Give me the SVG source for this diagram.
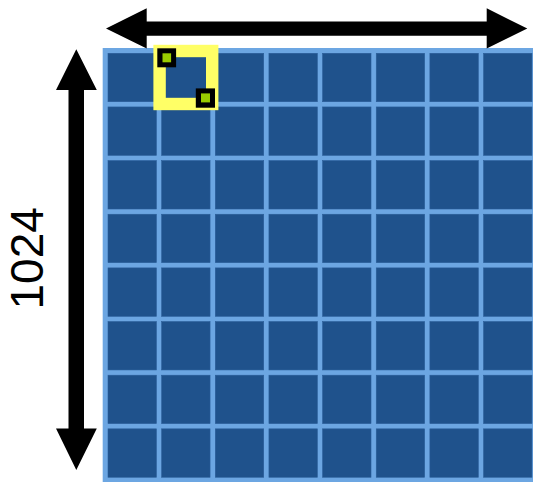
<svg xmlns="http://www.w3.org/2000/svg" width="533" height="482" viewBox="0 0 533 482">
<defs>
<style>
.cell{fill:#1F528C;stroke:#2A5D98;stroke-width:0.6}
.arrow{fill:#000}
.mark{fill:#000}
.dot{fill:#99CC00}
.label{font-family:"Liberation Sans",Arial,sans-serif;font-size:46px;fill:#000}
</style>
</defs>
<rect width="533" height="482" fill="#fff"/>
<g id="grid">
<rect x="102.7" y="48" width="440" height="440" fill="#6CA6E2"/>
<g id="cells">
<rect class="cell" x="108" y="53.3" width="48.4" height="48.4"/><rect class="cell" x="161.65" y="53.3" width="48.4" height="48.4"/><rect class="cell" x="215.3" y="53.3" width="48.4" height="48.4"/><rect class="cell" x="268.95" y="53.3" width="48.4" height="48.4"/><rect class="cell" x="322.6" y="53.3" width="48.4" height="48.4"/><rect class="cell" x="376.25" y="53.3" width="48.4" height="48.4"/><rect class="cell" x="429.9" y="53.3" width="48.4" height="48.4"/><rect class="cell" x="483.55" y="53.3" width="48.4" height="48.4"/>
<rect class="cell" x="108" y="106.95" width="48.4" height="48.4"/><rect class="cell" x="161.65" y="106.95" width="48.4" height="48.4"/><rect class="cell" x="215.3" y="106.95" width="48.4" height="48.4"/><rect class="cell" x="268.95" y="106.95" width="48.4" height="48.4"/><rect class="cell" x="322.6" y="106.95" width="48.4" height="48.4"/><rect class="cell" x="376.25" y="106.95" width="48.4" height="48.4"/><rect class="cell" x="429.9" y="106.95" width="48.4" height="48.4"/><rect class="cell" x="483.55" y="106.95" width="48.4" height="48.4"/>
<rect class="cell" x="108" y="160.6" width="48.4" height="48.4"/><rect class="cell" x="161.65" y="160.6" width="48.4" height="48.4"/><rect class="cell" x="215.3" y="160.6" width="48.4" height="48.4"/><rect class="cell" x="268.95" y="160.6" width="48.4" height="48.4"/><rect class="cell" x="322.6" y="160.6" width="48.4" height="48.4"/><rect class="cell" x="376.25" y="160.6" width="48.4" height="48.4"/><rect class="cell" x="429.9" y="160.6" width="48.4" height="48.4"/><rect class="cell" x="483.55" y="160.6" width="48.4" height="48.4"/>
<rect class="cell" x="108" y="214.25" width="48.4" height="48.4"/><rect class="cell" x="161.65" y="214.25" width="48.4" height="48.4"/><rect class="cell" x="215.3" y="214.25" width="48.4" height="48.4"/><rect class="cell" x="268.95" y="214.25" width="48.4" height="48.4"/><rect class="cell" x="322.6" y="214.25" width="48.4" height="48.4"/><rect class="cell" x="376.25" y="214.25" width="48.4" height="48.4"/><rect class="cell" x="429.9" y="214.25" width="48.4" height="48.4"/><rect class="cell" x="483.55" y="214.25" width="48.4" height="48.4"/>
<rect class="cell" x="108" y="267.9" width="48.4" height="48.4"/><rect class="cell" x="161.65" y="267.9" width="48.4" height="48.4"/><rect class="cell" x="215.3" y="267.9" width="48.4" height="48.4"/><rect class="cell" x="268.95" y="267.9" width="48.4" height="48.4"/><rect class="cell" x="322.6" y="267.9" width="48.4" height="48.4"/><rect class="cell" x="376.25" y="267.9" width="48.4" height="48.4"/><rect class="cell" x="429.9" y="267.9" width="48.4" height="48.4"/><rect class="cell" x="483.55" y="267.9" width="48.4" height="48.4"/>
<rect class="cell" x="108" y="321.55" width="48.4" height="48.4"/><rect class="cell" x="161.65" y="321.55" width="48.4" height="48.4"/><rect class="cell" x="215.3" y="321.55" width="48.4" height="48.4"/><rect class="cell" x="268.95" y="321.55" width="48.4" height="48.4"/><rect class="cell" x="322.6" y="321.55" width="48.4" height="48.4"/><rect class="cell" x="376.25" y="321.55" width="48.4" height="48.4"/><rect class="cell" x="429.9" y="321.55" width="48.4" height="48.4"/><rect class="cell" x="483.55" y="321.55" width="48.4" height="48.4"/>
<rect class="cell" x="108" y="375.2" width="48.4" height="48.4"/><rect class="cell" x="161.65" y="375.2" width="48.4" height="48.4"/><rect class="cell" x="215.3" y="375.2" width="48.4" height="48.4"/><rect class="cell" x="268.95" y="375.2" width="48.4" height="48.4"/><rect class="cell" x="322.6" y="375.2" width="48.4" height="48.4"/><rect class="cell" x="376.25" y="375.2" width="48.4" height="48.4"/><rect class="cell" x="429.9" y="375.2" width="48.4" height="48.4"/><rect class="cell" x="483.55" y="375.2" width="48.4" height="48.4"/>
<rect class="cell" x="108" y="428.85" width="48.4" height="48.4"/><rect class="cell" x="161.65" y="428.85" width="48.4" height="48.4"/><rect class="cell" x="215.3" y="428.85" width="48.4" height="48.4"/><rect class="cell" x="268.95" y="428.85" width="48.4" height="48.4"/><rect class="cell" x="322.6" y="428.85" width="48.4" height="48.4"/><rect class="cell" x="376.25" y="428.85" width="48.4" height="48.4"/><rect class="cell" x="429.9" y="428.85" width="48.4" height="48.4"/><rect class="cell" x="483.55" y="428.85" width="48.4" height="48.4"/>
</g>
</g>
<g id="highlight">
<rect x="159.6" y="51" width="52.6" height="53" fill="none" stroke="#FFFF66" stroke-width="12.4"/>
<rect class="mark" x="157.3" y="48.3" width="18.8" height="19"/>
<rect class="dot" x="162.5" y="53.3" width="8.6" height="9"/>
<rect class="mark" x="195.8" y="88.4" width="19.2" height="19.3"/>
<rect class="dot" x="201" y="93.4" width="9" height="9"/>
</g>
<g id="connectors">
<path class="arrow" d="M106,28.5 L146.7,8.3 L146.7,21.4 L486.7,21.4 L486.7,8.3 L527.3,28.5 L486.7,48.5 L486.7,35.8 L146.7,35.8 L146.7,48.5 Z"/>
<path class="arrow" d="M76.3,49.3 L96.8,90 L84,90 L84,428.5 L96.8,428.5 L76.3,470 L56,428.5 L68.5,428.5 L68.5,90 L56,90 Z"/>
</g>
<g id="label-1024">
<text class="label" x="42.7" y="258.3" text-anchor="middle" transform="rotate(-90 42.7 258.3)">1024</text>
</g>
</svg>
